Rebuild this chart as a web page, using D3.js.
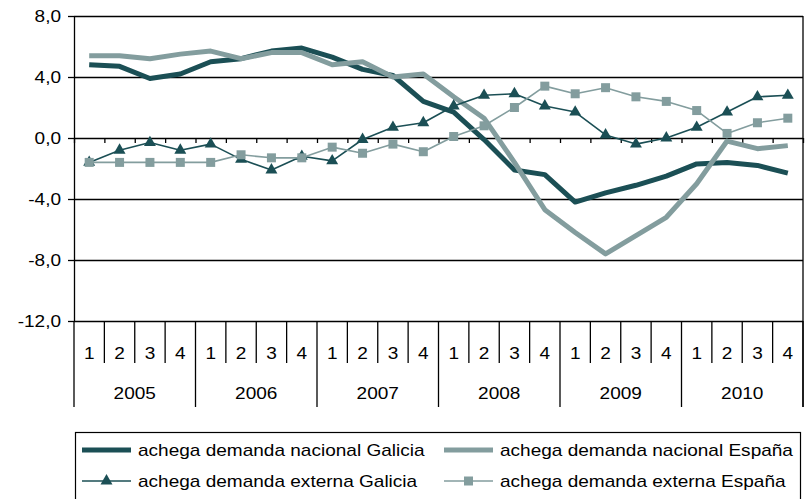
<!DOCTYPE html>
<html>
<head>
<meta charset="utf-8">
<script src="https://cdn.jsdelivr.net/npm/d3@7"></script>
<style>
  body { margin: 0; background: #fff; }
  svg text { font-family: "Liberation Sans", Arial, sans-serif; font-size: 17px; fill: #000; }
</style>
</head>
<body>
<svg id="chart" width="807" height="499"></svg>
<script>
// chart values
var years = ["2005", "2006", "2007", "2008", "2009", "2010"];
var quarters = ["1", "2", "3", "4"];
var yTicks = [-12, -8, -4, 0, 4, 8];

var nacGalicia = [4.8, 4.7, 3.9, 4.2, 5.0, 5.2, 5.7, 5.9, 5.3, 4.5, 4.1, 2.4,
                  1.7, -0.1, -2.1, -2.4, -4.2, -3.6, -3.1, -2.5, -1.7, -1.6, -1.8, -2.3];
var nacEspana = [5.4, 5.4, 5.2, 5.5, 5.7, 5.2, 5.6, 5.6, 4.8, 5.0, 4.0, 4.2,
                 2.7, 1.3, -1.6, -4.7, -6.2, -7.6, -6.4, -5.2, -3.0, -0.2, -0.7, -0.5];
var extGalicia = [-1.6, -0.8, -0.3, -0.8, -0.4, -1.4, -2.1, -1.2, -1.5, -0.1, 0.7, 1.0,
                  2.1, 2.8, 2.9, 2.1, 1.7, 0.2, -0.4, 0.0, 0.7, 1.7, 2.7, 2.8];
var extEspana = [-1.6, -1.6, -1.6, -1.6, -1.6, -1.1, -1.3, -1.3, -0.6, -1.0, -0.4, -0.9,
                 0.1, 0.8, 2.0, 3.4, 2.9, 3.3, 2.7, 2.4, 1.8, 0.3, 1.0, 1.3];

var dark = "#1b4f55", light = "#839d9e";
var series = [
  { name: "achega demanda nacional Galicia", values: nacGalicia, color: dark, width: 5, marker: null },
  { name: "achega demanda nacional España", values: nacEspana, color: light, width: 5, marker: null },
  { name: "achega demanda externa Galicia", values: extGalicia, color: dark, width: 1.6, marker: d3.symbolTriangle, msize: 62 },
  { name: "achega demanda externa España", values: extEspana, color: light, width: 1.6, marker: d3.symbolSquare, msize: 81 }
];

var svg = d3.select("#chart");
var plotLeft = 74, plotRight = 803, plotTop = 16, plotBottom = 321;
var qRowBottom = 363, yearRowBottom = 407;
var stretch = "scale(1.12,1)";

var cats = [];
years.forEach(function (y) { quarters.forEach(function (q) { cats.push(y + "-" + q); }); });

var x = d3.scaleBand().domain(d3.range(cats.length)).range([plotLeft, plotRight]).paddingInner(0);
var xb = d3.scaleLinear().domain([0, cats.length]).range([plotLeft, plotRight]);
var y = d3.scaleLinear().domain([-12, 8]).range([plotBottom, plotTop]);

var loc = d3.formatLocale({ decimal: ",", thousands: ".", grouping: [3], currency: ["", ""], minus: "-" });
var fmt = loc.format(".1f");

// gridlines
svg.append("g")
  .attr("transform", "translate(" + plotLeft + ",0)")
  .call(d3.axisLeft(y).tickValues(yTicks).tickSize(-(plotRight - plotLeft)).tickFormat(""))
  .call(function (g) {
    g.select(".domain").remove();
    g.selectAll(".tick line").attr("stroke", "#000").attr("stroke-width", 1.3);
  });

// y axis with labels
var yAxis = svg.append("g")
  .attr("transform", "translate(" + plotLeft + ",0)")
  .call(d3.axisLeft(y).tickValues(yTicks).tickSize(6).tickSizeOuter(0).tickPadding(13).tickFormat(fmt));
yAxis.attr("font-size", null).attr("font-family", null);
yAxis.select(".domain").attr("stroke", "#000").attr("stroke-width", 1.3);
yAxis.selectAll(".tick line").attr("stroke", "#000").attr("stroke-width", 1.3);
yAxis.selectAll(".tick text")
  .attr("x", -13 / 1.12)
  .attr("transform", stretch);

// right border
svg.append("line")
  .attr("x1", plotRight).attr("x2", plotRight).attr("y1", plotTop).attr("y2", yearRowBottom)
  .attr("stroke", "#000").attr("stroke-width", 1.3);

// small tick marks on the zero line
var zeroAxis = svg.append("g")
  .attr("transform", "translate(0," + y(0) + ")")
  .call(d3.axisBottom(xb).tickValues(d3.range(cats.length + 1)).tickSize(5).tickSizeOuter(0).tickFormat(""));
zeroAxis.select(".domain").remove();
zeroAxis.selectAll(".tick line").attr("stroke", "#000").attr("stroke-width", 1.3);

// category table under the plot
var table = svg.append("g");
table.selectAll("line.sep")
  .data(d3.range(cats.length + 1))
  .enter().append("line")
  .attr("class", "sep")
  .attr("x1", function (d) { return xb(d); })
  .attr("x2", function (d) { return xb(d); })
  .attr("y1", plotBottom)
  .attr("y2", function (d) { return d % 4 === 0 ? yearRowBottom : qRowBottom; })
  .attr("stroke", "#000").attr("stroke-width", 1.3);

table.selectAll("g.q")
  .data(cats)
  .enter().append("g")
  .attr("class", "q")
  .attr("transform", function (d, i) { return "translate(" + (x(i) + x.bandwidth() / 2) + ",353)"; })
  .append("text")
  .attr("text-anchor", "middle")
  .attr("dy", "0.35em")
  .attr("transform", stretch)
  .text(function (d) { return d.split("-")[1]; });

table.selectAll("g.yr")
  .data(years)
  .enter().append("g")
  .attr("class", "yr")
  .attr("transform", function (d, i) { return "translate(" + xb(i * 4 + 2) + ",393)"; })
  .append("text")
  .attr("text-anchor", "middle")
  .attr("dy", "0.35em")
  .attr("transform", stretch)
  .text(function (d) { return d; });

// series
var cx = function (d, i) { return x(i) + x.bandwidth() / 2; };
var line = d3.line().x(cx).y(function (d) { return y(d); });

series.forEach(function (s) {
  svg.append("path")
    .datum(s.values)
    .attr("fill", "none")
    .attr("stroke", s.color)
    .attr("stroke-width", s.width)
    .attr("stroke-linejoin", "round")
    .attr("d", line);
  if (s.marker) {
    svg.append("g").selectAll("path")
      .data(s.values)
      .enter().append("path")
      .attr("d", d3.symbol().type(s.marker).size(s.msize))
      .attr("fill", s.color)
      .attr("transform", function (d, i) { return "translate(" + cx(d, i) + "," + y(d) + ")"; });
  }
});

// legend
var legend = svg.append("g");
legend.append("rect")
  .attr("x", 75.5).attr("y", 432.5).attr("width", 725).attr("height", 80)
  .attr("fill", "none").attr("stroke", "#000").attr("stroke-width", 1.2);

var legPos = [
  { x: 82, y: 450 }, { x: 444, y: 450 },
  { x: 82, y: 481 }, { x: 444, y: 481 }
];

series.forEach(function (s, i) {
  var p = legPos[i];
  var item = legend.append("g").attr("transform", "translate(" + p.x + "," + p.y + ")");
  item.append("line")
    .attr("x1", 0).attr("x2", 49).attr("y1", 0).attr("y2", 0)
    .attr("stroke", s.color).attr("stroke-width", s.width);
  if (s.marker) {
    item.append("path")
      .attr("d", d3.symbol().type(s.marker).size(s.msize))
      .attr("fill", s.color)
      .attr("transform", "translate(24.5,0)");
  }
  item.append("g").attr("transform", "translate(56,0)")
    .append("text")
    .attr("dy", "0.35em")
    .attr("transform", stretch)
    .text(s.name);
});
</script>
</body>
</html>
